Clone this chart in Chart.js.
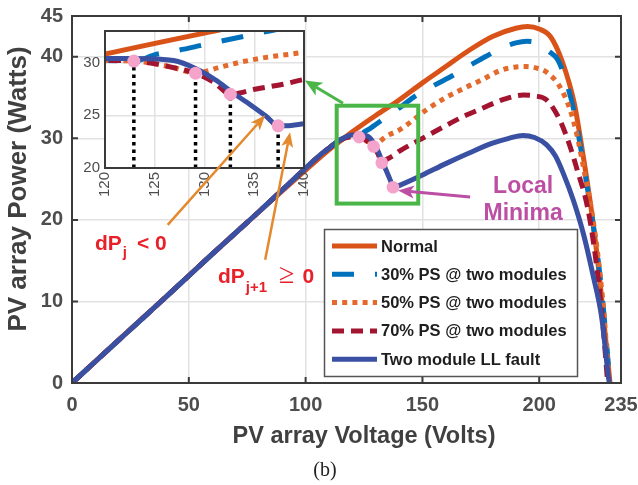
<!DOCTYPE html>
<html>
<head>
<meta charset="utf-8">
<title>PV array P-V curves</title>
<script src="https://cdn.jsdelivr.net/npm/chart.js@4.4.1/dist/chart.umd.min.js"></script>
<style>
  html, body { margin: 0; padding: 0; background: #fff; }
  #wrap { position: relative; width: 638px; height: 485px; }
  #wrap canvas { position: absolute; left: 0; top: 0; }
</style>
</head>
<body>
<div id="wrap">
  <canvas id="main" width="638" height="485"></canvas>
  <canvas id="inset" width="638" height="485"></canvas>
</div>
<script>
// ===== DATA (voltage in V, power in W) =====
const NORMAL_V = [0, 20, 40, 60, 80, 100, 110, 115, 120, 130, 140, 150, 160, 170, 180, 190, 195, 200, 205, 210, 215, 219, 222.5, 225.3, 227.5, 229.6, 230.3];
const NORMAL_P = [0, 5.3, 10.5, 15.8, 21.0, 26.1, 28.6, 29.7, 30.8, 32.8, 34.7, 36.8, 38.8, 40.8, 42.5, 43.5, 43.7, 43.4, 42.4, 39.3, 34.3, 27.5, 20.8, 14.3, 8.1, 2.0, 0];

const PS30_V = [0, 20, 40, 60, 80, 97.6, 106, 110, 114.7, 120, 122.9, 125.2, 127, 130, 135, 140, 146, 155, 163, 170, 175, 180, 185, 190, 194.6, 200, 204, 208, 212, 215, 218, 221, 224, 226, 228, 229.5, 230.1];
const PS30_P = [0, 5.26, 10.5, 15.8, 21.0, 25.7, 27.9, 28.8, 29.8, 30.2, 30.15, 30.8, 31.1, 31.7, 32.7, 33.7, 35.0, 36.5, 37.7, 38.9, 39.7, 40.5, 41.2, 41.7, 41.9, 41.6, 40.7, 39.6, 36.5, 33.2, 28.4, 23.2, 17.6, 13.2, 7.5, 2.5, 0];

const PS50_V = [0, 20, 40, 60, 80, 97.6, 106, 110, 114.7, 120, 122.9, 125, 127, 129.1, 131.5, 133.9, 136.2, 140, 151.8, 160, 169, 175, 183.2, 190, 194.6, 199, 203.2, 208.9, 213.2, 216, 218.9, 221.7, 223.9, 226, 228, 229.8];
const PS50_P = [0, 5.26, 10.5, 15.8, 21.0, 25.7, 27.9, 28.8, 29.8, 30.2, 30.15, 29.9, 29.5, 29.0, 29.55, 30.1, 30.5, 31.0, 33.5, 35.0, 36.3, 37.1, 38.3, 38.75, 38.8, 38.6, 38.1, 36.3, 33.5, 30.6, 26.5, 22.4, 18.3, 13.4, 7.5, 0];

const PS70_V = [0, 20, 40, 60, 80, 97.6, 106, 110, 114.7, 120, 122.9, 125, 127, 129.1, 131, 132.6, 135.2, 137.9, 140, 150, 159, 167, 175, 185, 193.2, 198, 203.2, 208.9, 213.2, 216.7, 219.6, 221.7, 224.6, 227, 229.3];
const PS70_P = [0, 5.26, 10.5, 15.8, 21.0, 25.7, 27.9, 28.8, 29.8, 30.2, 30.15, 29.9, 29.5, 29.0, 28.1, 27.0, 27.5, 27.95, 28.4, 30.0, 31.4, 32.6, 33.6, 34.8, 35.3, 35.2, 34.7, 32.2, 29.0, 25.7, 22.9, 20.0, 14.3, 8.0, 0];

const LL_V = [0, 20, 40, 60, 80, 97.6, 106, 110, 114.7, 120, 123, 126.9, 129.2, 131.2, 132.6, 134.6, 136.2, 137.4, 138.2, 140, 150, 160, 170, 180, 187, 193, 198, 203.2, 207, 210.3, 214.6, 218.9, 223.2, 226.7, 229.6, 230];
const LL_P = [0, 5.26, 10.5, 15.8, 21.0, 25.7, 27.9, 28.8, 29.8, 30.4, 30.4, 30.2, 29.4, 28.3, 27.3, 26.0, 24.9, 24.0, 24.0, 24.2, 25.5, 26.9, 28.2, 29.4, 30.0, 30.35, 30.1, 29.2, 27.8, 25.7, 22.4, 18.3, 13.0, 8.1, 0.8, 0];

// local minima marked on the curves
const MIN_V = [122.9, 129.1, 132.6, 137.4];
const MIN_P = [30.15, 29.0, 27.0, 24.0];

const SERIES_LABELS = ['Normal', '30% PS @ two modules', '50% PS @ two modules', '70% PS @ two modules', 'Two module LL fault'];

const X_TICKS = [0, 50, 100, 150, 200, 235];
const Y_TICKS = [0, 10, 20, 30, 40, 45];
const INSET_X_TICKS = [120, 125, 130, 135, 140];
const INSET_Y_TICKS = [20, 25, 30];

// ===== STYLE =====
const COLORS = {
  normal: '#D95319',
  ps30: '#0072BD',
  ps50: '#E36A2C',
  ps70: '#A2142F',
  ll: '#3A50A2',
  dot: '#F4A3CB',
  grid: '#E2E2E2',
  axis: '#3A3A3A',
  tick: '#4D4D4D',
  green: '#4AB648',
  orange: '#E5892D',
  magenta: '#BC4FA3',
  red: '#E8202A',
};
const SANS = '"Liberation Sans", Arial, Helvetica, sans-serif';

const pts = (xs, ys) => xs.map((x, i) => ({ x, y: ys[i] }));

function curveSets() {
  const base = { pointRadius: 0, borderWidth: 5, fill: false, cubicInterpolationMode: 'monotone', borderCapStyle: 'butt' };
  return [
    { ...base, label: SERIES_LABELS[0], data: pts(NORMAL_V, NORMAL_P), borderColor: COLORS.normal, order: 5 },
    { ...base, label: SERIES_LABELS[1], data: pts(PS30_V, PS30_P), borderColor: COLORS.ps30, borderDash: [22, 21], order: 4 },
    { ...base, label: SERIES_LABELS[2], data: pts(PS50_V, PS50_P), borderColor: COLORS.ps50, borderDash: [5, 5.2], order: 3 },
    { ...base, label: SERIES_LABELS[3], data: pts(PS70_V, PS70_P), borderColor: COLORS.ps70, borderDash: [12, 7], order: 2 },
    { ...base, label: SERIES_LABELS[4], data: pts(LL_V, LL_P), borderColor: COLORS.ll, order: 1 },
  ];
}

function dotSet(radius) {
  return {
    type: 'scatter', label: 'minima', data: pts(MIN_V, MIN_P),
    pointRadius: radius, pointBackgroundColor: COLORS.dot, pointBorderWidth: 0, showLine: false, order: 0,
  };
}

const fixedTicks = (list) => (scale) => { scale.ticks = list.map((v) => ({ value: v })); };

// keep the plot box where the layout padding puts it (no room reserved for edge labels)
const fitTo = (prop, size) => (s) => {
  s[prop] = size;
  s.paddingLeft = 0; s.paddingRight = 0; s.paddingTop = 0; s.paddingBottom = 0;
};

// ===== drawing helpers =====
function arrow(ctx, x0, y0, x1, y1, color, lw, len, wid) {
  const a = Math.atan2(y1 - y0, x1 - x0);
  const ux = Math.cos(a), uy = Math.sin(a);
  const bx = x1 - ux * len, by = y1 - uy * len;
  const nx = x1 - ux * len * 0.75, ny = y1 - uy * len * 0.75;
  ctx.save();
  ctx.strokeStyle = color; ctx.fillStyle = color; ctx.lineWidth = lw; ctx.setLineDash([]);
  ctx.beginPath(); ctx.moveTo(x0, y0); ctx.lineTo(nx, ny); ctx.stroke();
  ctx.beginPath();
  ctx.moveTo(x1, y1);
  ctx.lineTo(bx - uy * wid / 2, by + ux * wid / 2);
  ctx.lineTo(nx, ny);
  ctx.lineTo(bx + uy * wid / 2, by - ux * wid / 2);
  ctx.closePath(); ctx.fill();
  ctx.restore();
}

// pieces: [text, font, dy, gapAfter]
function richText(ctx, x, y, pieces, color) {
  ctx.save();
  ctx.fillStyle = color; ctx.textBaseline = 'alphabetic'; ctx.textAlign = 'left';
  for (const [t, font, dy, gap] of pieces) {
    ctx.font = font;
    ctx.fillText(t, x, y + dy);
    x += ctx.measureText(t).width + gap;
  }
  ctx.restore();
}

function boxWithTicks(ctx, chart, xt, yt, len) {
  const { left, right, top, bottom } = chart.chartArea;
  const sx = chart.scales.x, sy = chart.scales.y;
  ctx.save();
  ctx.strokeStyle = COLORS.axis; ctx.lineWidth = 2; ctx.setLineDash([]);
  ctx.strokeRect(left, top, right - left, bottom - top);
  ctx.beginPath();
  xt.forEach((v) => {
    const px = sx.getPixelForValue(v);
    ctx.moveTo(px, bottom); ctx.lineTo(px, bottom - len);
    ctx.moveTo(px, top); ctx.lineTo(px, top + len);
  });
  yt.forEach((v) => {
    const py = sy.getPixelForValue(v);
    ctx.moveTo(left, py); ctx.lineTo(left + len, py);
    ctx.moveTo(right, py); ctx.lineTo(right - len, py);
  });
  ctx.stroke();
  ctx.restore();
}

// ===== MAIN CHART =====
const mainDecor = {
  id: 'mainDecor',
  afterDraw(chart) {
    const ctx = chart.ctx;
    const sx = chart.scales.x, sy = chart.scales.y;
    boxWithTicks(ctx, chart, X_TICKS.slice(1, -1), Y_TICKS.slice(1, -1), 6);

    // zoom window around the knee
    ctx.save();
    ctx.strokeStyle = COLORS.green; ctx.lineWidth = 4;
    const gx0 = sx.getPixelForValue(113.3), gx1 = sx.getPixelForValue(148.2);
    const gy0 = sy.getPixelForValue(34.0), gy1 = sy.getPixelForValue(22.0);
    ctx.strokeRect(gx0, gy0, gx1 - gx0, gy1 - gy0);
    ctx.restore();

    // axis titles
    ctx.save();
    ctx.fillStyle = '#404040';
    ctx.textAlign = 'center'; ctx.textBaseline = 'alphabetic';
    ctx.font = 'bold 23.5px ' + SANS;
    ctx.fillText('PV array Voltage (Volts)', 364, 443);
    ctx.font = 'bold 26px ' + SANS;
    ctx.translate(26, 189);
    ctx.rotate(-Math.PI / 2);
    ctx.fillText('PV array Power (Watts)', 0, 0);
    ctx.restore();

    // caption
    ctx.save();
    ctx.fillStyle = '#222';
    ctx.font = '20px "Liberation Serif", "Times New Roman", serif';
    ctx.textAlign = 'center'; ctx.textBaseline = 'alphabetic';
    ctx.fillText('(b)', 325, 476);
    ctx.restore();

    // legend
    const lx = 324, ly = 229, lw = 253, lh = 147;
    ctx.save();
    ctx.fillStyle = '#fff';
    ctx.fillRect(lx, ly, lw, lh);
    ctx.strokeStyle = '#555'; ctx.lineWidth = 1.5;
    ctx.strokeRect(lx + 0.5, ly + 0.5, lw, lh);
    ctx.font = 'bold 16.5px ' + SANS;
    ctx.textBaseline = 'middle'; ctx.textAlign = 'left';
    chart.data.datasets.slice(0, 5).forEach((ds, i) => {
      const ry = ly + 17 + i * 28.3;
      ctx.strokeStyle = ds.borderColor; ctx.lineWidth = 5;
      ctx.setLineDash(ds.borderDash || []);
      ctx.beginPath(); ctx.moveTo(332, ry); ctx.lineTo(377, ry); ctx.stroke();
      ctx.setLineDash([]);
      ctx.fillStyle = '#1E1E1E';
      ctx.fillText(ds.label, 381, ry + 1);
    });
    ctx.restore();
  },
};

const mainChart = new Chart(document.getElementById('main'), {
  type: 'line',
  data: { datasets: [...curveSets(), dotSet(6.3)] },
  options: {
    responsive: false,
    animation: false,
    devicePixelRatio: 1,
    layout: { padding: { top: 16, right: 17, left: 0, bottom: 0 } },
    plugins: { legend: { display: false }, tooltip: { enabled: false } },
    scales: {
      x: {
        type: 'linear', min: 0, max: 235,
        afterBuildTicks: fixedTicks(X_TICKS),
        afterFit: fitTo('height', 102),
        grid: { color: COLORS.grid, lineWidth: 1.5, drawTicks: false },
        border: { display: false },
        ticks: { padding: 10, color: COLORS.tick, font: { family: SANS, size: 20, weight: 'bold' }, maxRotation: 0 },
      },
      y: {
        type: 'linear', min: 0, max: 45,
        afterBuildTicks: fixedTicks(Y_TICKS),
        afterFit: fitTo('width', 72),
        grid: { color: COLORS.grid, lineWidth: 1.5, drawTicks: false },
        border: { display: false },
        ticks: { padding: 9, color: COLORS.tick, font: { family: SANS, size: 20, weight: 'bold' } },
      },
    },
  },
  plugins: [mainDecor],
});

// ===== INSET (zoom of the knee) + annotations =====
const insetDecor = {
  id: 'insetDecor',
  beforeDraw(chart) {
    const { left, right, top, bottom } = chart.chartArea;
    chart.ctx.save();
    chart.ctx.fillStyle = '#fff';
    chart.ctx.fillRect(left, top, right - left, bottom - top);
    chart.ctx.restore();
  },
  afterDraw(chart) {
    const ctx = chart.ctx;
    const ix = chart.scales.x, iy = chart.scales.y;
    const mx = mainChart.scales.x, my = mainChart.scales.y;
    boxWithTicks(ctx, chart, [], [], 0);

    // arrows pointing into the zoomed view
    arrow(ctx, mx.getPixelForValue(116), my.getPixelForValue(34.3), mx.getPixelForValue(99.7), my.getPixelForValue(37.1), COLORS.green, 3, 17, 15);
    arrow(ctx, ix.getPixelForValue(126.3), iy.getPixelForValue(14.6), ix.getPixelForValue(136.1), iy.getPixelForValue(25.0), COLORS.orange, 2.5, 15, 12);
    arrow(ctx, ix.getPixelForValue(136.1), iy.getPixelForValue(11.3), ix.getPixelForValue(138.6), iy.getPixelForValue(23.4), COLORS.orange, 2.5, 15, 12);
    arrow(ctx, mx.getPixelForValue(170.4), my.getPixelForValue(22.8), mx.getPixelForValue(139.6), my.getPixelForValue(23.6), COLORS.magenta, 3, 16, 13);

    // labels
    ctx.save();
    ctx.fillStyle = COLORS.magenta;
    ctx.font = 'bold 23px ' + SANS;
    ctx.textAlign = 'center'; ctx.textBaseline = 'middle';
    ctx.fillText('Local', mx.getPixelForValue(193.1), my.getPixelForValue(24.1));
    ctx.fillText('Minima', mx.getPixelForValue(193.1), my.getPixelForValue(20.8));
    ctx.restore();

    const big = 'bold 21px ' + SANS, sub = 'bold 15px ' + SANS;
    richText(ctx, mx.getPixelForValue(9.8), my.getPixelForValue(16.3),
      [['dP', big, 0, 1], ['j', sub, 7, 10], ['< 0', big, 0, 0]], COLORS.red);
    richText(ctx, mx.getPixelForValue(62.5), my.getPixelForValue(12.25),
      [['dP', big, 0, 1], ['j+1', sub, 9, 12], ['\u2265', '28px "Liberation Serif", serif', 0, 8], ['0', big, 0, 0]], COLORS.red);
  },
};

const guideData = [];
MIN_V.forEach((v, i) => {
  guideData.push({ x: v, y: 20 }, { x: v, y: MIN_P[i] }, { x: v, y: null });
});

new Chart(document.getElementById('inset'), {
  type: 'line',
  data: {
    datasets: [
      ...curveSets(),
      {
        label: 'guides', data: guideData, borderColor: '#000', borderWidth: 3.5, borderDash: [3.5, 4],
        pointRadius: 0, spanGaps: false, order: 0.5,
      },
      dotSet(6.5),
    ],
  },
  options: {
    responsive: false,
    animation: false,
    devicePixelRatio: 1,
    layout: { padding: { top: 31, right: 334, left: 70, bottom: 280 } },
    plugins: { legend: { display: false }, tooltip: { enabled: false } },
    scales: {
      x: {
        type: 'linear', min: 120, max: 140,
        afterBuildTicks: fixedTicks(INSET_X_TICKS),
        afterFit: fitTo('height', 37),
        grid: { color: COLORS.grid, lineWidth: 1.5, drawTicks: false },
        border: { display: false },
        ticks: { padding: 4, color: COLORS.tick, font: { family: SANS, size: 15 }, minRotation: 90, maxRotation: 90 },
      },
      y: {
        type: 'linear', min: 20, max: 33,
        afterBuildTicks: fixedTicks(INSET_Y_TICKS),
        afterFit: fitTo('width', 35),
        grid: { color: COLORS.grid, lineWidth: 1.5, drawTicks: false },
        border: { display: false },
        ticks: { padding: 5, color: COLORS.tick, font: { family: SANS, size: 15 } },
      },
    },
  },
  plugins: [insetDecor],
});
</script>
</body>
</html>
